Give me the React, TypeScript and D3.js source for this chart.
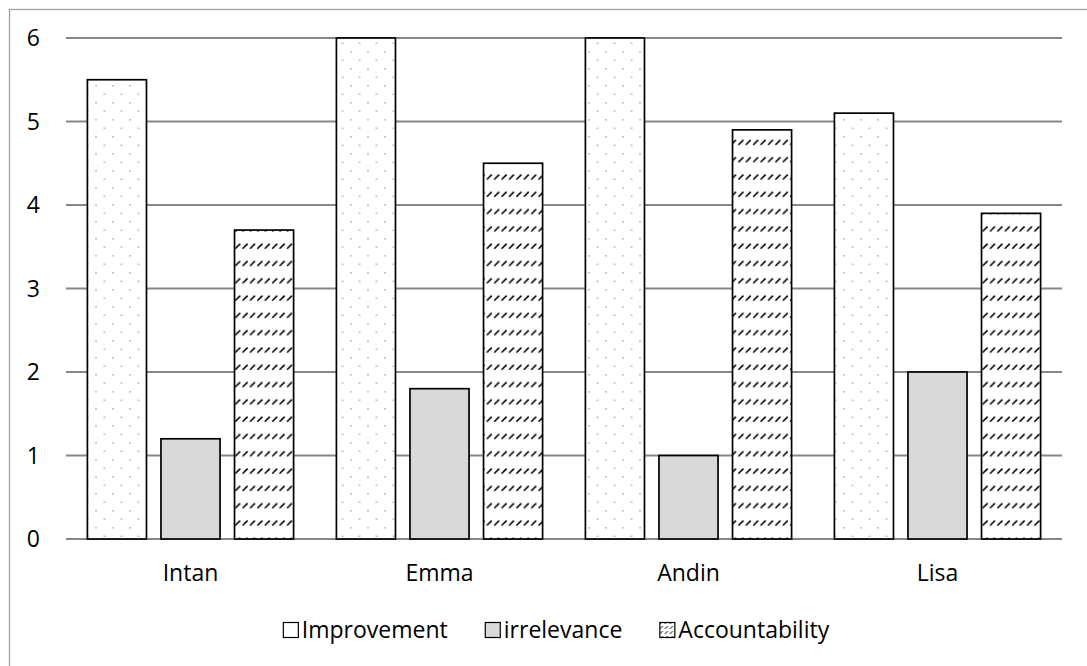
import React, { useEffect, useRef } from "react";
import * as d3 from "d3";

const categories = ["Intan", "Emma", "Andin", "Lisa"];
const seriesNames = ["Improvement", "irrelevance", "Accountability"];
const improvement = [5.5, 6, 6, 5.1];
const irrelevance = [1.2, 1.8, 1.0, 2.0];
const accountability = [3.7, 4.5, 4.9, 3.9];
const yTicks = [0, 1, 2, 3, 4, 5, 6];

const W = 1087;
const H = 666;
const FONT = "'Open Sans', 'Noto Sans', sans-serif";
const FS = 23;

export default function App() {
  const ref = useRef<SVGSVGElement | null>(null);

  useEffect(() => {
    const svg = d3.select(ref.current);
    svg.selectAll("*").remove();

    const defs = svg.append("defs");
    // dotted pattern
    const dots = defs
      .append("pattern")
      .attr("id", "dots")
      .attr("patternUnits", "userSpaceOnUse")
      .attr("width", 17)
      .attr("height", 17)
      .attr("x", 95)
      .attr("y", 85);
    dots.append("rect").attr("width", 17).attr("height", 17).attr("fill", "#fff");
    dots.append("rect").attr("x", 0).attr("y", 0).attr("width", 2).attr("height", 1.6).attr("fill", "#c4c4c4");
    dots.append("rect").attr("x", 8.5).attr("y", 8.5).attr("width", 2).attr("height", 1.6).attr("fill", "#c4c4c4");

    // dashed upward diagonal pattern
    const hatch = defs
      .append("pattern")
      .attr("id", "hatch")
      .attr("patternUnits", "userSpaceOnUse")
      .attr("width", 7.4)
      .attr("height", 17.3)
      .attr("x", 234)
      .attr("y", 0);
    hatch.append("rect").attr("width", 7.4).attr("height", 17.3).attr("fill", "#fff");
    hatch
      .append("line")
      .attr("x1", 1.2)
      .attr("y1", 6.5)
      .attr("x2", 6.2)
      .attr("y2", 1.5)
      .attr("stroke", "#000")
      .attr("stroke-width", 1.6);

    const hatchSmall = defs
      .append("pattern")
      .attr("id", "hatchSmall")
      .attr("patternUnits", "userSpaceOnUse")
      .attr("width", 5)
      .attr("height", 5);
    hatchSmall.append("rect").attr("width", 5).attr("height", 5).attr("fill", "#fff");
    hatchSmall
      .append("line")
      .attr("x1", 0.5)
      .attr("y1", 4)
      .attr("x2", 3.5)
      .attr("y2", 1)
      .attr("stroke", "#000")
      .attr("stroke-width", 1);

    // outer border
    svg
      .append("rect")
      .attr("x", 9.5)
      .attr("y", 9.5)
      .attr("width", W + 50)
      .attr("height", H + 50)
      .attr("fill", "#fff")
      .attr("stroke", "#a0a0a0")
      .attr("stroke-width", 1.3);

    const plotLeft = 66;
    const plotRight = 1062;
    const y = d3.scaleLinear().domain([0, 6]).range([539, 38]);
    const x0 = d3.scaleBand<string>().domain(categories).range([plotLeft, plotRight]).paddingInner(0).paddingOuter(0);
    const x1 = d3
      .scaleBand<string>()
      .domain(seriesNames)
      .range([0, x0.bandwidth()])
      .paddingInner(0.197)
      .paddingOuter(0.291);

    // gridlines
    svg
      .append("g")
      .selectAll("line")
      .data(yTicks)
      .join("line")
      .attr("x1", plotLeft)
      .attr("x2", plotRight)
      .attr("y1", (d) => y(d))
      .attr("y2", (d) => y(d))
      .attr("stroke", "#878787")
      .attr("stroke-width", 2);

    // y tick labels
    svg
      .append("g")
      .selectAll("text")
      .data(yTicks)
      .join("text")
      .attr("x", 40)
      .attr("y", (d) => y(d))
      .attr("dy", "0.35em")
      .attr("text-anchor", "end")
      .attr("font-family", FONT)
      .attr("font-size", FS)
      .attr("fill", "#000")
      .text((d) => String(d));

    const series = [
      { name: seriesNames[0], values: improvement, fill: "url(#dots)" },
      { name: seriesNames[1], values: irrelevance, fill: "#d9d9d9" },
      { name: seriesNames[2], values: accountability, fill: "url(#hatch)" },
    ];

    const bars = svg.append("g");
    series.forEach((s) => {
      bars
        .append("g")
        .selectAll("rect")
        .data(s.values)
        .join("rect")
        .attr("x", (_d, i) => (x0(categories[i]) as number) + (x1(s.name) as number))
        .attr("width", x1.bandwidth())
        .attr("y", (d) => y(d))
        .attr("height", (d) => y(0) - y(d))
        .attr("fill", s.fill)
        .attr("stroke", "#000")
        .attr("stroke-width", 1.7);
    });

    // category labels
    svg
      .append("g")
      .selectAll("text")
      .data(categories)
      .join("text")
      .attr("x", (d) => (x0(d) as number) + x0.bandwidth() / 2)
      .attr("y", 573)
      .attr("dy", "0.35em")
      .attr("text-anchor", "middle")
      .attr("font-family", FONT)
      .attr("font-size", FS)
      .attr("fill", "#000")
      .text((d) => d);

    // legend
    const legendFills = ["#fff", "#d9d9d9", "url(#hatchSmall)"];
    const legend = svg.append("g");
    const items = seriesNames.map((name, i) => {
      const g = legend.append("g");
      g.append("rect")
        .attr("x", 0.5)
        .attr("y", -7.5)
        .attr("width", 15)
        .attr("height", 15)
        .attr("fill", legendFills[i])
        .attr("stroke", "#000")
        .attr("stroke-width", 1.2);
      const t = g
        .append("text")
        .attr("x", 19)
        .attr("y", 0)
        .attr("dy", "0.35em")
        .attr("font-family", FONT)
        .attr("font-size", FS)
        .attr("fill", "#000")
        .text(name);
      const w = (t.node() as SVGTextElement).getComputedTextLength();
      return { g, width: 19 + w };
    });
    const gap = 37;
    const total = items.reduce((a, b) => a + b.width, 0) + gap * (items.length - 1);
    let cx = 556 - total / 2;
    items.forEach((it) => {
      it.g.attr("transform", `translate(${cx},630)`);
      cx += it.width + gap;
    });
  }, []);

  return (
    <svg
      ref={ref}
      width={W}
      height={H}
      style={{ position: "absolute", left: 0, top: 0, background: "#fff" }}
    />
  );
}
